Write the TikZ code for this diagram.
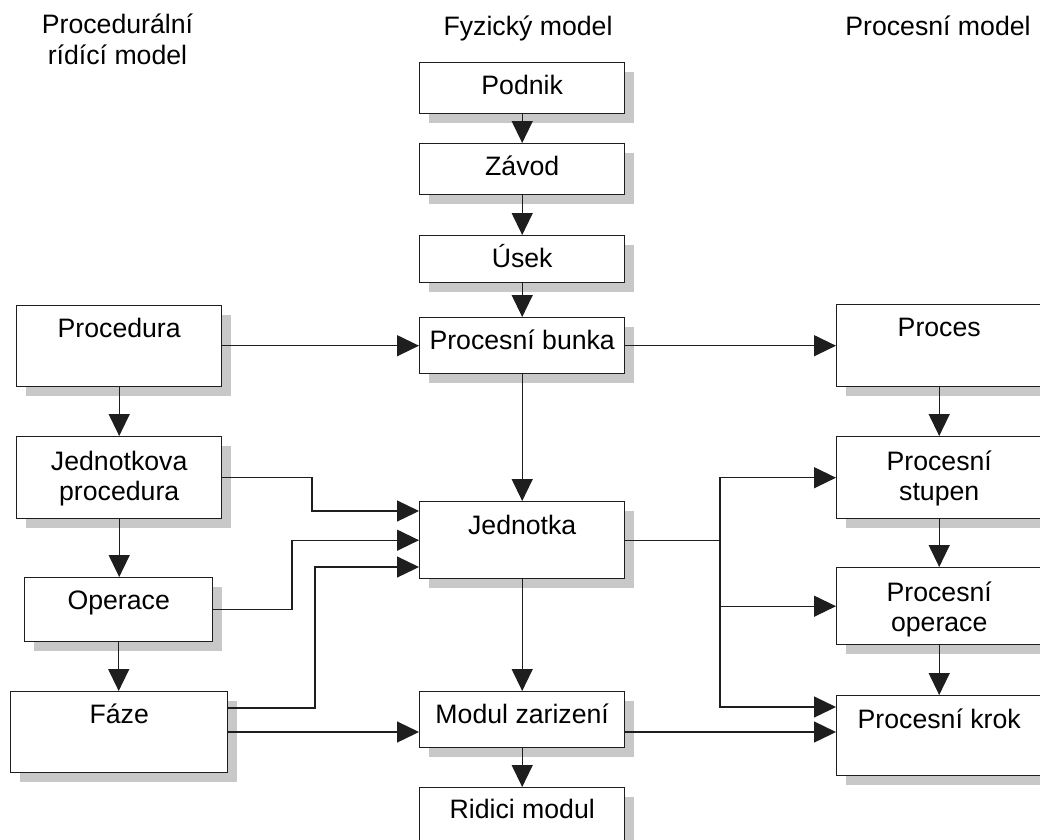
\documentclass[tikz,border=0pt]{standalone}
\usepackage{fontspec}
\setmainfont{Liberation Sans}
\usetikzlibrary{arrows.meta,shadows}
\definecolor{shade}{RGB}{200,200,200}
\definecolor{ink}{RGB}{30,30,30}
\tikzset{
  blk/.style={draw=ink, line width=1.4pt, fill=white, inner sep=0pt, anchor=north west,
    drop shadow={shadow xshift=9pt, shadow yshift=-9pt, fill=shade, opacity=1}},
  lbl/.style={anchor=base, inner sep=0pt, font=\fontsize{26.67}{30}\selectfont},
  ttl/.style={anchor=base, inner sep=0pt, font=\fontsize{26.67}{31}\selectfont},
  con/.style={draw=ink, line width=1.3pt},
  arr/.style={con, -{Triangle[length=22pt,width=21pt]}},
}
% box: name, left, top, right, bottom
\newcommand\blkbox[5]{%
  \node[blk, minimum width={(#4-#2)*1pt}, minimum height={(#5-#3)*1pt}] (#1) at (#2,#3) {};}
\newcommand\twolines[2]{\begin{tabular}[t]{@{}c@{}}#1\\#2\end{tabular}}
\begin{document}
\begin{tikzpicture}[x=1pt,y=-1pt]
\useasboundingbox (0,0) rectangle (1040,839);
\fill[white] (0,0) rectangle (1040,839);

% column headings
\node[ttl] (h-proc) at (117.5,33) {\twolines{Procedurální}{rídící model}};
\node[ttl] (h-fyz) at (528,35) {Fyzický model};
\node[ttl] (h-pm) at (938,35) {Procesní model};

% physical model
\blkbox{podnik}{419}{62}{624}{113}
\blkbox{zavod}{419}{143}{624}{194}
\blkbox{usek}{419}{235}{624}{282}
\blkbox{bunka}{419}{317}{624}{373}
\blkbox{jednotka}{419}{501}{624}{578}
\blkbox{modul}{419}{691}{624}{747}
\blkbox{ridici}{419}{787}{624}{840}

% procedural control model
\blkbox{procedura}{16}{305}{221}{386}
\blkbox{jproc}{16}{436}{221}{518}
\blkbox{operace}{24}{577}{212}{641}
\blkbox{faze}{10}{691}{227}{772}

% process model
\blkbox{proces}{836}{304}{1041}{386}
\blkbox{stupen}{836}{436}{1041}{518}
\blkbox{poper}{836}{567}{1041}{644}
\blkbox{krok}{836}{695}{1041}{775}

% labels
\node[lbl] (podnik-t) at ([yshift=-32pt]podnik.north) {Podnik};
\node[lbl] (zavod-t) at ([yshift=-32pt]zavod.north) {Závod};
\node[lbl] (usek-t) at ([yshift=-32pt]usek.north) {Úsek};
\node[lbl] (bunka-t) at ([yshift=-32pt]bunka.north) {Procesní bunka};
\node[lbl] (jednotka-t) at ([yshift=-33pt]jednotka.north) {Jednotka};
\node[lbl] (modul-t) at ([yshift=-32pt]modul.north) {Modul zarizení};
\node[lbl] (ridici-t) at ([yshift=-31pt]ridici.north) {Ridici modul};
\node[lbl] (procedura-t) at ([yshift=-32pt]procedura.north) {Procedura};
\node[lbl] (jproc-t) at ([yshift=-34pt]jproc.north) {\twolines{Jednotkova}{procedura}};
\node[lbl] (operace-t) at ([yshift=-32pt]operace.north) {Operace};
\node[lbl] (faze-t) at ([yshift=-32pt]faze.north) {Fáze};
\node[lbl] (proces-t) at ([yshift=-32pt]proces.north) {Proces};
\node[lbl] (stupen-t) at ([yshift=-34pt]stupen.north) {\twolines{Procesní}{stupen}};
\node[lbl] (poper-t) at ([yshift=-34pt]poper.north) {\twolines{Procesní}{operace}};
\node[lbl] (krok-t) at ([yshift=-33pt]krok.north) {Procesní krok};

% bend points
\coordinate (b1) at (312,0);
\coordinate (b2) at (292,0);
\coordinate (b3) at (315,0);
\coordinate (split) at (720,0);
\coordinate (j1) at ([yshift=-10pt]jednotka.north west);
\coordinate (j3) at ([yshift=-66pt]jednotka.north west);
\coordinate (f1) at ([yshift=-17pt]faze.north east);
\coordinate (f2) at ([yshift=-41pt]faze.north east);
\coordinate (m1) at ([yshift=-41pt]modul.north east);
\coordinate (k1) at ([yshift=-12pt]krok.north west);

% vertical chains
\draw[arr] (podnik) -- (zavod);
\draw[arr] (zavod) -- (usek);
\draw[arr] (usek) -- (bunka);
\draw[arr] (bunka) -- (jednotka);
\draw[arr] (jednotka) -- (modul);
\draw[arr] (modul) -- (ridici);
\draw[arr] (procedura.south) -- (procedura.south |- jproc.north);
\draw[arr] (jproc.south) -- (jproc.south |- operace.north);
\draw[arr] (operace.south) -- (operace.south |- faze.north);
\draw[arr] (proces) -- (stupen);
\draw[arr] (stupen) -- (poper);
\draw[arr] (poper) -- (krok);

% horizontal links
\draw[arr] (procedura.east |- bunka.west) -- (bunka.west);
\draw[arr] (bunka.east) -- (bunka.east -| proces.west);
\draw[arr] (jproc.east) -- (jproc.east -| b1) |- (j1);
\draw[arr] (operace.east) -- (operace.east -| b2) |- (jednotka.west);
\draw[arr] (f1) -- (f1 -| b3) |- (j3);
\draw[arr] (f2) -- (f2 -| modul.west);
\draw[con] (jednotka.east) -- (jednotka.east -| split);
\draw[arr] (jednotka.east -| split) |- (stupen.west);
\draw[arr] (jednotka.east -| split) |- (poper.west);
\draw[arr] (jednotka.east -| split) |- (k1);
\draw[arr] (m1) -- (m1 -| krok.west);
\end{tikzpicture}
\end{document}
